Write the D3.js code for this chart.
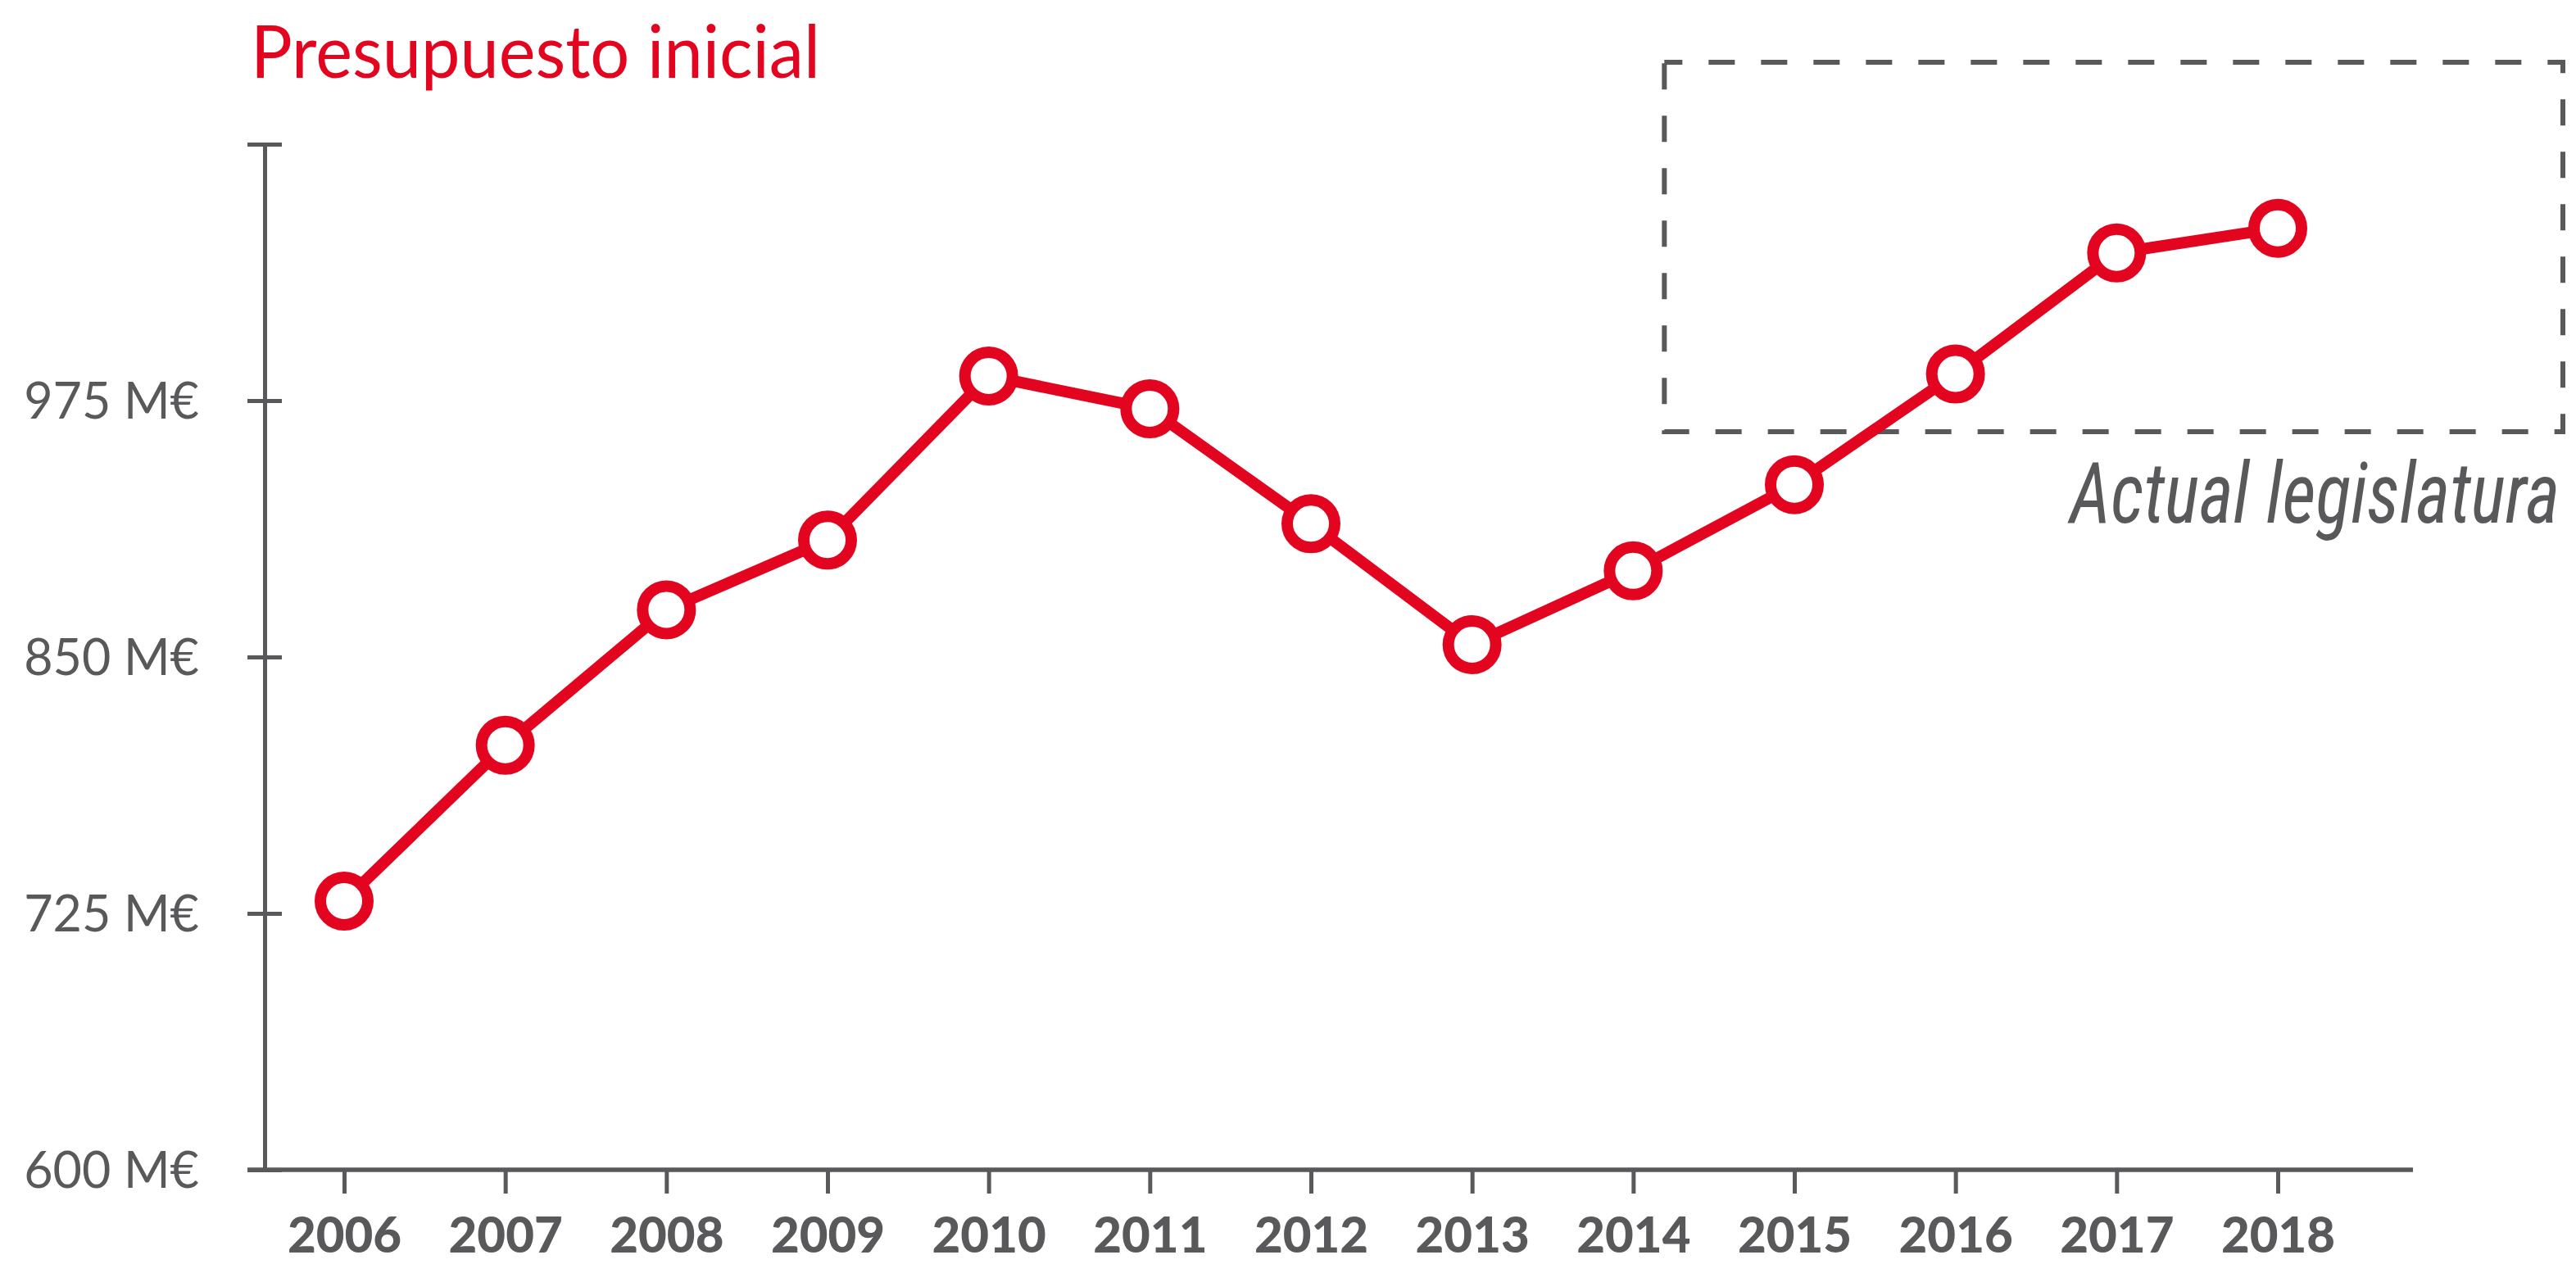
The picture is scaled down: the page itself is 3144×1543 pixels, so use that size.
<!DOCTYPE html>
<html>
<head>
<meta charset="utf-8">
<script src="https://cdn.jsdelivr.net/npm/d3@7"></script>
<style>
  html, body { margin: 0; padding: 0; background: #ffffff; }
  svg { display: block; }
</style>
</head>
<body>
<svg id="chart" width="3144" height="1543"></svg>
<script>
// ---- data ----
const years = ["2006","2007","2008","2009","2010","2011","2012","2013","2014","2015","2016","2017","2018"];
const budget = [731, 807, 873, 907, 987, 971, 915, 856, 892, 934, 988, 1047, 1059];
const yTicks = [600, 725, 850, 975, 1100];
const yTickLabels = ["600 M€", "725 M€", "850 M€", "975 M€", ""];
const titleText = "Presupuesto inicial";
const boxLabel = "Actual legislatura";
const boxYears = ["2014", "2018"];

// ---- styles ----
const RED = "#e30520";
const GREY = "#59595b";

const svg = d3.select("#chart");

const x = d3.scalePoint().domain(years).range([420, 2780]);
const y = d3.scaleLinear().domain([600, 1100]).range([1428, 176]);

const axisX = 323;
const axisY = y(600);

// title
svg.append("text")
  .attr("x", 306)
  .attr("y", 95)
  .attr("font-family", "Lato, 'Open Sans', sans-serif")
  .attr("font-size", 90)
  .attr("fill", RED)
  .attr("textLength", 695)
  .attr("lengthAdjust", "spacingAndGlyphs")
  .text(titleText);

// y axis
const gy = svg.append("g")
  .attr("transform", `translate(${axisX},0)`)
  .call(d3.axisLeft(y).tickValues(yTicks).tickFormat((d, i) => yTickLabels[i]).tickSizeOuter(0).tickSizeInner(21).tickPadding(80));
gy.select(".domain").attr("stroke", GREY).attr("stroke-width", 5);
gy.selectAll(".tick line").attr("x1", -21).attr("x2", 21).attr("stroke", GREY).attr("stroke-width", 5);
gy.selectAll(".tick text")
  .attr("x", -80)
  .attr("font-family", "Lato, 'Open Sans', sans-serif")
  .attr("font-weight", 400)
  .attr("font-size", 61)
  .attr("fill", GREY)
  .attr("dy", "0.36em");

// x axis
const gx = svg.append("g")
  .attr("transform", `translate(0,${axisY})`)
  .call(d3.axisBottom(x).tickSizeOuter(0).tickSizeInner(29));
gx.select(".domain").attr("d", `M${axisX - 21},0H2945`).attr("stroke", GREY).attr("stroke-width", 5.5);
gx.selectAll(".tick line").attr("stroke", GREY).attr("stroke-width", 5);
gx.selectAll(".tick text")
  .attr("y", 101)
  .attr("dy", 0)
  .attr("font-family", "Lato, 'Open Sans', sans-serif")
  .attr("font-weight", 900)
  .attr("font-size", 60)
  .attr("fill", GREY);

// dashed box for current legislature
const boxLeft = x(boxYears[0]) + 38;
const boxRight = 3128;
svg.append("rect")
  .attr("x", boxLeft)
  .attr("y", 76)
  .attr("width", boxRight - boxLeft)
  .attr("height", 527 - 76)
  .attr("fill", "none")
  .attr("stroke", GREY)
  .attr("stroke-width", 6)
  .attr("stroke-dasharray", "32 32")
  .attr("stroke-dashoffset", 10);

svg.append("text")
  .attr("transform", "translate(3124,638) scale(0.86,1)")
  .attr("text-anchor", "end")
  .attr("font-family", "'Roboto Condensed', Roboto, 'Liberation Sans Narrow', sans-serif")
  .attr("font-style", "italic")
  .attr("font-size", 104)
  .attr("fill", GREY)
  .text(boxLabel);

// line
const line = d3.line().x((d, i) => x(years[i])).y(d => y(d));
svg.append("path")
  .datum(budget)
  .attr("d", line)
  .attr("fill", "none")
  .attr("stroke", RED)
  .attr("stroke-width", 14)
  .attr("stroke-linejoin", "round");

// markers
svg.append("g").selectAll("circle")
  .data(budget)
  .join("circle")
  .attr("cx", (d, i) => x(years[i]))
  .attr("cy", d => y(d))
  .attr("r", 29)
  .attr("fill", "#ffffff")
  .attr("stroke", RED)
  .attr("stroke-width", 14);
</script>
</body>
</html>
